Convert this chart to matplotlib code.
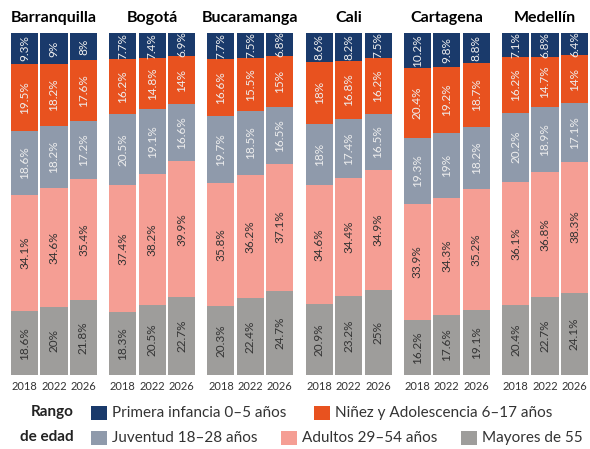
import matplotlib.pyplot as plt
import numpy as np
from matplotlib.patches import Rectangle

plt.rcParams['font.family'] = ['Lato', 'DejaVu Sans']

cities = ['Barranquilla', 'Bogotá', 'Bucaramanga', 'Cali', 'Cartagena', 'Medellín']
years = ['2018', '2022', '2026']

# share of population per age group, one row per city, one column per year
mayores = [[18.6, 20, 21.8], [18.3, 20.5, 22.7], [20.3, 22.4, 24.7],
           [20.9, 23.2, 25], [16.2, 17.6, 19.1], [20.4, 22.7, 24.1]]
adultos = [[34.1, 34.6, 35.4], [37.4, 38.2, 39.9], [35.8, 36.2, 37.1],
           [34.6, 34.4, 34.9], [33.9, 34.3, 35.2], [36.1, 36.8, 38.3]]
juventud = [[18.6, 18.2, 17.2], [20.5, 19.1, 16.6], [19.7, 18.5, 16.5],
            [18, 17.4, 16.5], [19.3, 19, 18.2], [20.2, 18.9, 17.1]]
ninez = [[19.5, 18.2, 17.6], [16.2, 14.8, 14], [16.6, 15.5, 15],
         [18, 16.8, 16.2], [20.4, 19.2, 18.7], [16.2, 14.7, 14]]
infancia = [[9.3, 9, 8], [7.7, 7.4, 6.9], [7.7, 7.5, 6.8],
            [8.6, 8.2, 7.5], [10.2, 9.8, 8.8], [7.1, 6.8, 6.4]]

groups = [
    ('Mayores de 55', mayores, '#9e9d9b', '#333333'),
    ('Adultos 29–54 años', adultos, '#f59e94', '#333333'),
    ('Juventud 18–28 años', juventud, '#8f9aab', '#eeeeee'),
    ('Niñez y Adolescencia 6–17 años', ninez, '#e8521f', '#eeeeee'),
    ('Primera infancia 0–5 años', infancia, '#1a3a6b', '#eeeeee'),
]

W, H = 590, 449
fig = plt.figure(figsize=(W / 100, H / 100), dpi=100)

x = np.arange(len(years))
for i, city in enumerate(cities):
    left = 11 + 98.2 * i
    ax = fig.add_axes([left / W, (H - 375) / H, 86 / W, 342 / H])
    bottom = np.zeros(len(years))
    for name, vals, color, tcolor in groups:
        v = np.array(vals[i], dtype=float)
        ax.bar(x, v, bottom=bottom, width=0.92, color=color, linewidth=0)
        for xi, (b, h) in enumerate(zip(bottom, v)):
            ax.text(xi, b + h / 2, f'{h:g}%', rotation=90, ha='center', va='center',
                    fontsize=8.5, color=tcolor)
        bottom += v
    ax.set_xlim(-0.46, 2.46)
    ax.set_ylim(0, 100)
    ax.set_xticks(x)
    ax.set_xticklabels(years, fontsize=8, color='#333333')
    ax.tick_params(axis='x', length=0, pad=4)
    ax.set_yticks([])
    for s in ax.spines.values():
        s.set_visible(False)
    ax.set_title(city, fontsize=11.5, fontweight='bold', pad=8)

# legend drawn by hand: two rows with different entry counts
fig.text(74 / W, 1 - 412 / H, 'Rango', ha='right', va='center', fontsize=11,
         fontweight='bold', color='#222222')
fig.text(74 / W, 1 - 437 / H, 'de edad', ha='right', va='center', fontsize=11,
         fontweight='bold', color='#222222')
legend_rows = [
    (413, [(91, 4), (314, 3)]),
    (438, [(91, 2), (281, 1), (461, 0)]),
]
for ypix, items in legend_rows:
    for xpix, gi in items:
        name, _, color, _ = groups[gi]
        fig.patches.append(Rectangle((xpix / W, (H - ypix - 7) / H), 16 / W, 14 / H,
                                     transform=fig.transFigure, facecolor=color,
                                     edgecolor='none'))
        fig.text((xpix + 21) / W, 1 - ypix / H, name, ha='left', va='center',
                 fontsize=11, color='#333333')

fig.savefig('out.png', dpi=100)
